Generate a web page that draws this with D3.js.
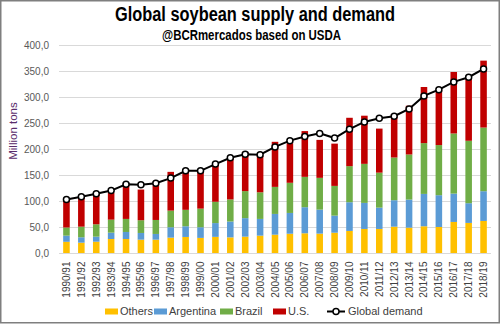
<!DOCTYPE html>
<html>
<head>
<meta charset="utf-8">
<script src="https://cdn.jsdelivr.net/npm/d3@7"></script>
<style>
  body { margin: 0; background: #fff; }
  svg { display: block; font-family: "Liberation Sans", Arial, sans-serif; }
</style>
</head>
<body>
<svg id="chart" width="500" height="325"></svg>
<script>
// marketing years
const years = ["1990/91","1991/92","1992/93","1993/94","1994/95","1995/96","1996/97","1997/98",
  "1998/99","1999/00","2000/01","2001/02","2002/03","2003/04","2004/05","2005/06","2006/07",
  "2007/08","2008/09","2009/10","2010/11","2011/12","2012/13","2013/14","2014/15","2015/16",
  "2016/17","2017/18","2018/19"];

// production, million tons
const others    = [22.5,20.8,22.7,27.9,27.9,26.6,26.6,30.5,31.8,30.0,32.0,31.0,32.4,34.3,36.2,38.0,38.9,38.2,40.0,43.4,47.2,47.2,51.6,49.7,52.4,51.0,60.7,58.8,62.6];
const argentina = [11.8,10.4,9.7,12.2,13.5,12.9,11.0,20.0,20.6,20.5,26.5,30.5,35.6,32.2,39.9,40.0,50.1,46.2,32.8,55.2,50.1,41.0,50.9,54.0,62.2,61.1,54.5,37.9,57.2];
const brazil    = [15.7,20.4,23.8,25.0,25.1,24.5,26.9,32.0,31.6,35.8,41.0,42.5,52.0,51.2,52.0,58.0,58.4,61.1,57.2,69.4,75.1,67.3,82.1,86.7,97.7,96.4,115.6,120.1,122.4];
const us        = [51.7,55.9,59.0,51.4,69.5,59.0,66.1,74.5,75.0,70.7,71.5,80.0,75.6,70.3,86.7,76.0,88.0,73.0,81.3,93.0,92.6,84.7,83.6,93.8,107.9,106.5,118.3,120.8,128.7];
const demand    = [104,109,115,121,133,132,135,145,159,159,172,184,191,190,205,217,225,231,222,239,253,260,264,278,303,315,330,339,355];

const seriesNames = ["Others","Argentina","Brazil","U.S."];
const seriesColors = ["#FFC000","#5B9BD5","#70AD47","#C00000"];
const yTicks = [0,50,100,150,200,250,300,350,400];

const svg = d3.select("#chart");
const W = 500, H = 325;
const m = {left: 59, right: 9, top: 45.5, bottom: 71.5};

svg.append("rect")
  .attr("x", 0.75).attr("y", 0.75)
  .attr("width", W - 1.5).attr("height", H - 3)
  .attr("fill", "#fff").attr("stroke", "#7f7f7f").attr("stroke-width", 1.5);

const x = d3.scaleBand().domain(years).range([m.left, W - m.right]).paddingInner(0.56).paddingOuter(0.28);
const y = d3.scaleLinear().domain([0, 400]).range([H - m.bottom, m.top]);

// gridlines
svg.append("g").selectAll("line").data(yTicks.slice(1)).join("line")
  .attr("x1", m.left).attr("x2", W - m.right)
  .attr("y1", d => y(d)).attr("y2", d => y(d))
  .attr("stroke", "#d9d9d9").attr("stroke-width", 1);

// y axis labels
const yAxis = svg.append("g").attr("transform", `translate(${m.left},0)`)
  .call(d3.axisLeft(y).tickValues(yTicks).tickSize(0).tickPadding(10)
    .tickFormat(d => d3.format(".1f")(d).replace(".", ",")));
yAxis.select(".domain").remove();
yAxis.selectAll("text").attr("font-size", 10).attr("fill", "#595959")
  .attr("font-family", "Liberation Sans, Arial, sans-serif");

// stacked bars
const rows = years.map((yr, i) => ({year: yr, Others: others[i], Argentina: argentina[i], Brazil: brazil[i], "U.S.": us[i]}));
const stack = d3.stack().keys(seriesNames)(rows);
svg.append("g").selectAll("g").data(stack).join("g")
  .attr("fill", (d, i) => seriesColors[i])
  .selectAll("rect").data(d => d).join("rect")
  .attr("x", d => x(d.data.year))
  .attr("width", x.bandwidth())
  .attr("y", d => y(d[1]))
  .attr("height", d => y(d[0]) - y(d[1]));

// x axis
const xAxis = svg.append("g").attr("transform", `translate(0,${y(0)})`)
  .call(d3.axisBottom(x).tickSize(0).tickPadding(0));
xAxis.select(".domain").attr("stroke", "#d9d9d9").attr("d", `M${m.left},0H${W - m.right}`);
xAxis.selectAll("text")
  .attr("font-size", 10).attr("fill", "#404040")
  .attr("font-family", "Liberation Sans, Arial, sans-serif")
  .attr("transform", "rotate(-90)")
  .attr("text-anchor", "end")
  .attr("x", -8).attr("y", 0).attr("dy", "0.35em");

// demand line
const cx = d => x(d) + x.bandwidth() / 2;
const line = d3.line().x((d, i) => cx(years[i])).y(d => y(d));
svg.append("path").datum(demand)
  .attr("fill", "none").attr("stroke", "#000").attr("stroke-width", 2)
  .attr("d", line);
svg.append("g").selectAll("circle").data(demand).join("circle")
  .attr("cx", (d, i) => cx(years[i])).attr("cy", d => y(d)).attr("r", 3)
  .attr("fill", "#fff").attr("stroke", "#000").attr("stroke-width", 1.5);

// titles
svg.append("text").attr("x", 255).attr("y", 21).attr("text-anchor", "middle")
  .attr("font-family", "Liberation Sans Narrow, Arial Narrow, Liberation Sans, sans-serif")
  .attr("font-weight", "bold").attr("font-size", 20)
  .attr("textLength", 280).attr("lengthAdjust", "spacingAndGlyphs")
  .text("Global soybean supply and demand");
svg.append("text").attr("x", 251.5).attr("y", 40).attr("text-anchor", "middle")
  .attr("font-family", "Liberation Sans Narrow, Arial Narrow, Liberation Sans, sans-serif")
  .attr("font-weight", "bold").attr("font-size", 14)
  .attr("textLength", 179).attr("lengthAdjust", "spacingAndGlyphs")
  .text("@BCRmercados based on USDA");

// y axis title
svg.append("text").attr("transform", "translate(17,131) rotate(-90)")
  .attr("text-anchor", "middle").attr("font-size", 11.5).attr("fill", "#5a2d6b")
  .text("Million tons");

// legend
const legendItems = [
  {name: "Others", color: seriesColors[0], x: 105},
  {name: "Argentina", color: seriesColors[1], x: 154},
  {name: "Brazil", color: seriesColors[2], x: 220},
  {name: "U.S.", color: seriesColors[3], x: 273}
];
const lg = svg.append("g");
const ly = 311.5;
legendItems.forEach(it => {
  lg.append("rect").attr("x", it.x).attr("y", ly - 3).attr("width", 13).attr("height", 6).attr("fill", it.color);
  lg.append("text").attr("x", it.x + 15).attr("y", ly).attr("dy", "0.35em")
    .attr("font-size", 11).attr("fill", "#404040").text(it.name);
});
lg.append("line").attr("x1", 327).attr("x2", 345).attr("y1", ly).attr("y2", ly)
  .attr("stroke", "#000").attr("stroke-width", 2);
lg.append("circle").attr("cx", 336).attr("cy", ly).attr("r", 3)
  .attr("fill", "#fff").attr("stroke", "#000").attr("stroke-width", 1.5);
lg.append("text").attr("x", 348).attr("y", ly).attr("dy", "0.35em")
  .attr("font-size", 11).attr("fill", "#404040").text("Global demand");
</script>
</body>
</html>
